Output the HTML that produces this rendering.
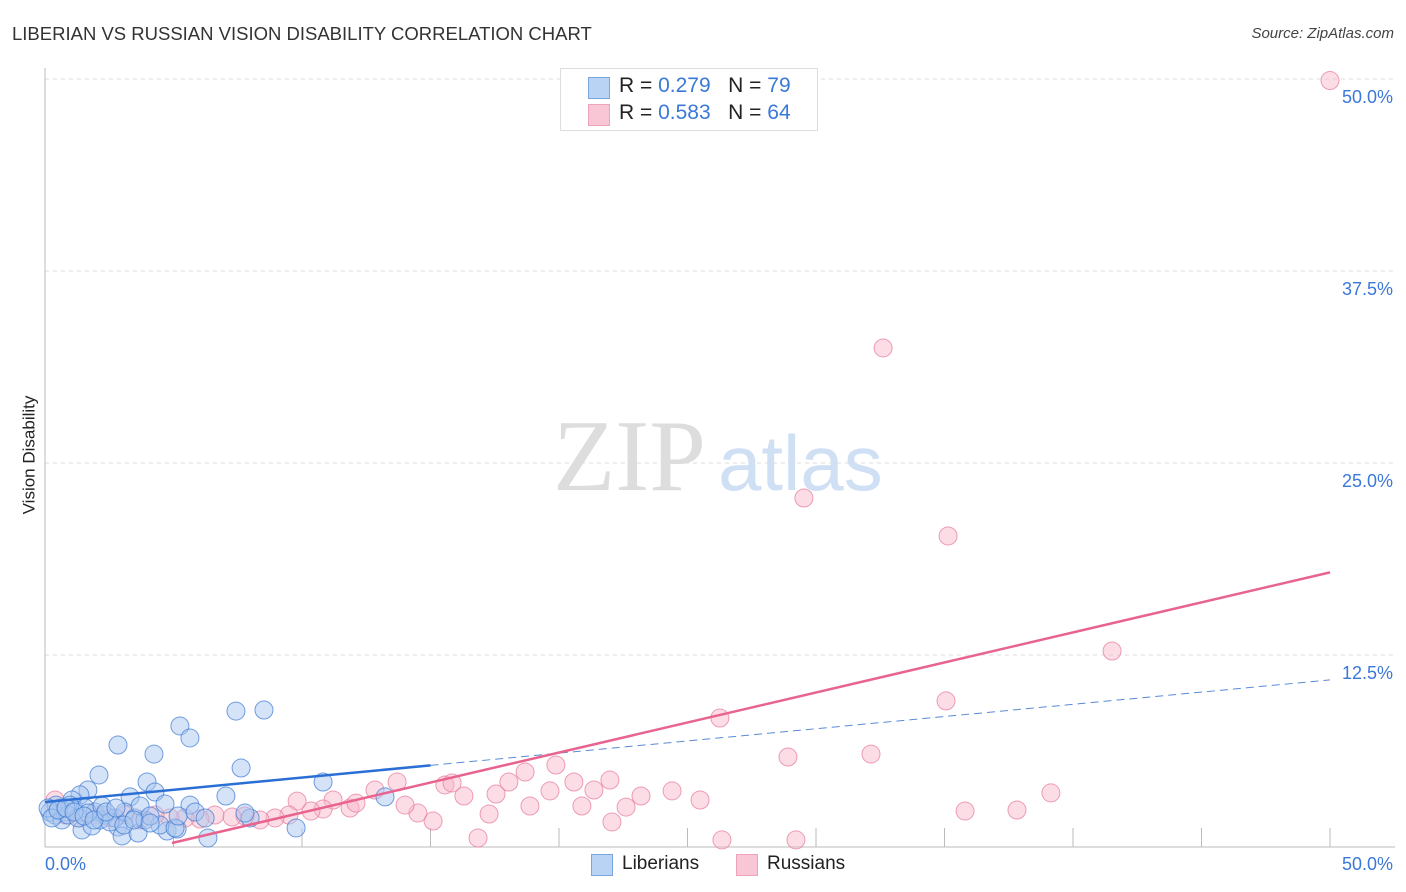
<!DOCTYPE html>
<html><head><meta charset="utf-8">
<style>
body{margin:0;background:#fff;font-family:"Liberation Sans",sans-serif;}
#wrap{position:relative;width:1406px;height:892px;overflow:hidden;}
.t{position:absolute;white-space:nowrap;}
</style></head><body>
<div id="wrap">
<div class="t" style="left:12px;top:23px;font-size:18.5px;color:#333;">LIBERIAN VS RUSSIAN VISION DISABILITY CORRELATION CHART</div>
<div class="t" style="right:12px;top:25px;font-size:15px;color:#444;font-style:italic;">Source: ZipAtlas.com</div>
<div class="t" style="left:-30px;top:445px;font-size:17px;color:#222;transform:rotate(-90deg);">Vision Disability</div>
<svg id="svg" width="1406" height="892" style="position:absolute;left:0;top:0"></svg>
<div style="position:absolute;left:560px;top:68px;width:256px;height:61px;border:1px solid #ddd;background:#fff;font-size:21px;">
 <div style="position:absolute;left:27px;top:8px;width:20px;height:20px;background:#b9d3f5;border:1px solid #7aa6e0"></div>
 <div class="t" style="left:58px;top:5px;color:#222">R = <span style="color:#3b78d8">0.279</span>&nbsp;&nbsp;&nbsp;N = <span style="color:#3b78d8">79</span></div>
 <div style="position:absolute;left:27px;top:35px;width:20px;height:20px;background:#f9c6d5;border:1px solid #eda3b9"></div>
 <div class="t" style="left:58px;top:32px;color:#222">R = <span style="color:#3b78d8">0.583</span>&nbsp;&nbsp;&nbsp;N = <span style="color:#3b78d8">64</span></div>
</div>
<div>
 <div style="position:absolute;left:591px;top:854px;width:20px;height:20px;background:#b9d3f5;border:1px solid #7aa6e0"></div>
 <div class="t" style="left:622px;top:853px;font-size:19px;color:#222">Liberians</div>
 <div style="position:absolute;left:736px;top:854px;width:20px;height:20px;background:#f9c6d5;border:1px solid #eda3b9"></div>
 <div class="t" style="left:767px;top:853px;font-size:19px;color:#222">Russians</div>
</div>
</div>
<script>
const yTicks=[12.5,25,37.5,50];
const yTickLabels=["12.5%","25.0%","37.5%","50.0%"];
const xTickVals=[5,10,15,20,25,30,35,40,45,50];
const xLabels=["0.0%","50.0%"];
const blueX=[2.84,4.24,5.25,5.64,7.43,8.52,7.63,10.82,2.1,3.97,9.77,13.23,7.04,2.84,3.0,3.62,4.75,5.14,6.34,5.64,4.28,3.31,1.67,1.36,1.05,0.58,0.19,0.39,0.78,1.17,1.56,1.95,2.33,2.72,3.11,3.5,3.89,4.47,5.06,7.98,0.66,0.97,1.44,1.83,2.14,2.53,3.7,4.67,5.18,4.09,0.43,0.12,0.89,1.28,1.67,2.22,0.27,0.51,0.82,1.13,1.52,1.91,2.37,2.76,3.07,3.46,4.09,5.84,6.23,7.78];
const blueY=[6.64,6.05,7.88,7.1,8.85,8.92,5.14,4.23,4.69,4.23,1.24,3.26,3.32,1.3,0.72,0.91,1.04,1.17,0.59,2.73,3.58,3.26,3.71,3.39,3.06,2.54,2.28,2.08,2.28,2.41,2.54,2.28,2.08,1.89,2.28,1.89,1.76,1.43,1.24,1.89,1.76,2.73,1.11,1.37,1.76,1.63,2.67,2.8,2.02,2.02,2.73,2.54,2.08,1.89,2.21,2.67,1.89,2.41,2.54,2.28,2.02,1.76,2.28,2.54,1.43,1.76,1.56,2.28,1.89,2.21];
const pinkX=[50,32.61,29.53,35.14,41.52,26.26,35.06,28.91,32.14,19.88,18.68,20.58,15.56,15.84,16.3,17.55,18.05,21.36,20.89,22.61,23.19,24.4,39.14,35.8,37.82,22.06,17.28,15.1,14.51,14.01,11.87,12.1,11.21,10.82,10.35,9.81,9.49,8.95,8.37,7.78,7.28,6.61,6.03,5.45,4.86,4.28,3.7,3.11,2.53,1.95,1.36,0.78,0.39,0.58,16.85,26.34,29.22,13.7,12.84,19.65,18.87,21.98,25.49];
const pinkY=[49.9,32.49,22.72,20.25,12.76,8.4,9.51,5.86,6.05,5.34,4.88,4.23,4.04,4.17,3.32,3.45,4.23,3.71,2.67,2.6,3.32,3.65,3.52,2.34,2.41,1.63,2.15,1.69,2.21,2.73,2.54,2.86,3.06,2.47,2.34,2.99,2.08,1.89,1.76,2.02,1.95,2.08,1.82,1.89,1.89,2.08,1.76,2.08,1.89,2.08,1.89,2.08,3.06,2.41,0.59,0.46,0.46,4.23,3.71,3.65,2.67,4.36,3.06];
const blueFit=[2.93,0.159], pinkFit=[-1.67,0.391];
const X=v=>45+v*25.7, Y=v=>847-v*15.36;
const svg=document.getElementById('svg'), NS='http://www.w3.org/2000/svg';
function mk(t,a){const e=document.createElementNS(NS,t);for(const k in a)e.setAttribute(k,a[k]);svg.appendChild(e);return e;}
let w=mk('text',{x:553,y:490,'font-size':102,'font-family':'Liberation Serif',fill:'#ddd'});w.textContent='ZIP';


let w2=mk('text',{x:718,y:490,'font-size':78,'font-family':'Liberation Sans',fill:'#cfe0f5'});w2.textContent='atlas';


yTicks.forEach((v,i)=>{
 const g=mk('line',{x1:45,x2:1395,y1:Y(v),y2:Y(v),stroke:'#ddd','stroke-dasharray':'4,4'});
 
 
 const t=mk('text',{x:1393,y:Y(v)+24,'text-anchor':'end','font-size':18,fill:'#3b78d8'});t.textContent=yTickLabels[i];
 
 
});
const ax=mk('line',{x1:45,x2:45,y1:68,y2:847,stroke:'#bbb'});


const bx=mk('line',{x1:45,x2:1395,y1:847,y2:847,stroke:'#bbb'});


xTickVals.forEach(v=>{const l=mk('line',{x1:X(v),x2:X(v),y1:847,y2:828,stroke:'#bbb'});
 
 });
[[0,'start',45],[50,'end',1393]].forEach((a,i)=>{const t=mk('text',{x:a[2],y:870,'text-anchor':a[1],'font-size':18,fill:'#3b78d8'});t.textContent=xLabels[i];
 
 });
pinkX.forEach((x,i)=>{const c=mk('circle',{cx:X(x),cy:Y(pinkY[i]),r:9,fill:'rgba(249,180,200,0.45)',stroke:'rgba(230,120,155,0.7)','stroke-width':1});
 
 });
blueX.forEach((x,i)=>{const c=mk('circle',{cx:X(x),cy:Y(blueY[i]),r:9,fill:'rgba(170,200,240,0.5)',stroke:'rgba(60,120,210,0.7)','stroke-width':1});
 
 });
const f=(p,x)=>p[0]+p[1]*x;
const bl=mk('line',{x1:X(0),y1:Y(f(blueFit,0)),x2:X(15),y2:Y(f(blueFit,15)),stroke:'#2a6fd6','stroke-width':2.5});


const bd=mk('line',{x1:X(15),y1:Y(f(blueFit,15)),x2:X(50),y2:Y(f(blueFit,50)),stroke:'#5a8ad6','stroke-width':1,'stroke-dasharray':'8,5'});


const pl=mk('line',{x1:X(4.94),y1:Y(f(pinkFit,4.94)),x2:X(50),y2:Y(f(pinkFit,50)),stroke:'#e8648f','stroke-width':2.5});


</script>
</body></html>
